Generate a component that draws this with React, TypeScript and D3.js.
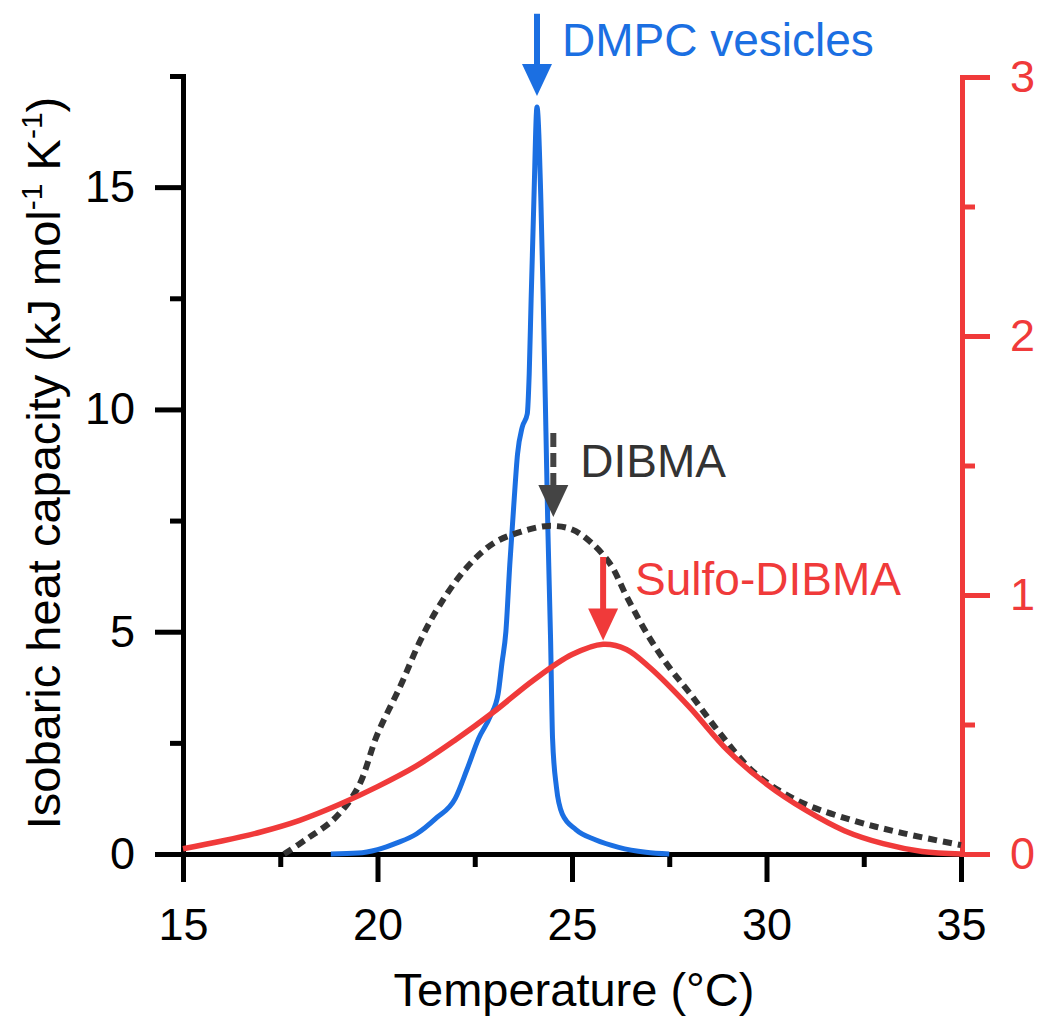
import React, { useRef, useEffect } from 'react';
import * as d3 from 'd3';

// DMPC vesicles, left axis (kJ mol-1 K-1)
const dmpcTemp = [18.8, 19.5, 20.0, 20.5, 21.0, 21.5, 22.0, 22.3, 22.6, 22.9, 23.1, 23.2, 23.3, 23.4, 23.5, 23.6, 23.72, 23.85, 23.9, 23.95, 24.02, 24.1, 24.2, 24.26, 24.33, 24.38, 24.45, 24.5, 24.6, 24.75, 25.1, 25.6, 26.2, 26.9, 27.5];
const dmpcCp = [0, 0.02, 0.1, 0.25, 0.45, 0.8, 1.25, 1.9, 2.6, 3.1, 3.6, 4.3, 5.0, 6.5, 7.8, 9.0, 9.6, 9.9, 10.8, 12.5, 14.7, 16.8, 14.7, 12.5, 9.5, 7.3, 4.8, 2.6, 1.5, 0.9, 0.55, 0.32, 0.15, 0.04, 0];

// DIBMA, dashed, left axis
const dibmaTemp = [17.6, 18.2, 18.9, 19.5, 20.0, 20.6, 21.1, 21.6, 22.3, 23.0, 23.7, 24.4, 25.0, 25.5, 26.0, 26.4, 27.0, 27.5, 28.0, 28.8, 29.7, 30.8, 32.2, 33.5, 35.0];
const dibmaCp = [0, 0.35, 0.8, 1.5, 2.7, 3.8, 4.8, 5.6, 6.45, 7.0, 7.25, 7.38, 7.3, 7.0, 6.5, 5.8, 4.85, 4.2, 3.65, 2.72, 1.82, 1.2, 0.76, 0.47, 0.2];

// Sulfo-DIBMA, right axis
const sulfoTemp = [15, 16, 17, 18, 19, 20, 21, 22, 23, 24, 25, 25.8, 26.4, 27, 28, 29, 30, 31, 32, 33, 34, 35];
const sulfoCp = [0.02, 0.05, 0.085, 0.13, 0.19, 0.26, 0.34, 0.44, 0.55, 0.67, 0.77, 0.81, 0.79, 0.72, 0.57, 0.40, 0.27, 0.17, 0.09, 0.04, 0.01, 0];

const xMajorTicks = [15, 20, 25, 30, 35];
const xMinorTicks = [17.5, 22.5, 27.5, 32.5];
const yLeftMajor = [0, 5, 10, 15];
const yLeftMinor = [2.5, 7.5, 12.5, 17.5];
const yRightMajor = [0, 1, 2, 3];
const yRightMinor = [0.5, 1.5, 2.5];

const BLUE = '#1b6fe2';
const RED = '#f03a3a';
const DARK = '#333333';
const FONT = '"Liberation Sans", Arial, Helvetica, sans-serif';

// peak markers (temperature, arrow top, arrow tip) in left-axis units
const peakArrows = [
  { label: 'DMPC vesicles', t: 24.1, top: 18.9, tip: 17.05, color: BLUE, textColor: BLUE, dashed: false, dx: 25, dy: 42 },
  { label: 'DIBMA', t: 24.52, top: 9.47, tip: 7.58, color: '#444444', textColor: DARK, dashed: true, dx: 27, dy: 44 },
  { label: 'Sulfo-DIBMA', t: 25.8, top: 6.68, tip: 4.8, color: RED, textColor: RED, dashed: false, dx: 32, dy: 38 },
];

const App = () => {
  const ref = useRef(null);

  useEffect(() => {
    const svg = d3.select(ref.current);
    svg.selectAll('*').remove();

    const x = d3.scaleLinear().domain([15, 35]).range([183, 961]);
    const yL = d3.scaleLinear().domain([0, 17.5]).range([854, 76]);
    const yR = d3.scaleLinear().domain([0, 3]).range([854, 77]);
    const fmt = d3.format('d');

    const styleAxis = (g, color, size) => {
      g.attr('font-family', FONT).attr('font-size', size);
      g.selectAll('path').attr('stroke', color).attr('stroke-width', 5).attr('stroke-linecap', 'square');
      g.selectAll('line').attr('stroke', color).attr('stroke-width', 5);
      g.selectAll('text').attr('fill', color);
    };

    // bottom axis
    const gx = svg.append('g').attr('transform', 'translate(0,854)');
    gx.call(d3.axisBottom(x).tickValues(xMajorTicks).tickFormat(fmt).tickSize(28).tickPadding(26).tickSizeOuter(0));
    styleAxis(gx, '#000', 45);
    const gxm = svg.append('g').attr('transform', 'translate(0,854)');
    gxm.call(d3.axisBottom(x).tickValues(xMinorTicks).tickSize(13).tickFormat(() => '').tickSizeOuter(0));
    styleAxis(gxm, '#000', 45);

    // left axis
    const gl = svg.append('g').attr('transform', 'translate(183,0)');
    gl.call(d3.axisLeft(yL).tickValues(yLeftMajor).tickFormat(fmt).tickSize(28).tickPadding(20).tickSizeOuter(0));
    styleAxis(gl, '#000', 45);
    const glm = svg.append('g').attr('transform', 'translate(183,0)');
    glm.call(d3.axisLeft(yL).tickValues(yLeftMinor).tickSize(13).tickFormat(() => '').tickSizeOuter(0));
    styleAxis(glm, '#000', 45);

    // right axis
    const gr = svg.append('g').attr('transform', 'translate(962,0)');
    gr.call(d3.axisRight(yR).tickValues(yRightMajor).tickFormat(fmt).tickSize(28).tickPadding(20).tickSizeOuter(0));
    styleAxis(gr, RED, 45);
    const grm = svg.append('g').attr('transform', 'translate(962,0)');
    grm.call(d3.axisRight(yR).tickValues(yRightMinor).tickSize(13).tickFormat(() => '').tickSizeOuter(0));
    styleAxis(grm, RED, 45);

    // axis titles
    svg.append('text')
      .attr('x', (x(15) + x(35)) / 2 + 2)
      .attr('y', 1006)
      .attr('text-anchor', 'middle')
      .attr('font-family', FONT)
      .attr('font-size', 47)
      .text('Temperature (°C)');

    const yt = svg.append('text')
      .attr('transform', 'translate(60,463) rotate(-90)')
      .attr('text-anchor', 'middle')
      .attr('font-family', FONT)
      .attr('font-size', 47);
    yt.append('tspan').text('Isobaric heat capacity (kJ mol');
    yt.append('tspan').attr('font-size', 30).attr('dy', -18).text('-1');
    yt.append('tspan').attr('dy', 18).text(' K');
    yt.append('tspan').attr('font-size', 30).attr('dy', -18).text('-1');
    yt.append('tspan').attr('dy', 18).text(')');

    // curves
    const lineL = d3.line().x(d => x(d[0])).y(d => yL(d[1])).curve(d3.curveMonotoneX);
    const smoothL = d3.line().x(d => x(d[0])).y(d => yL(d[1])).curve(d3.curveCatmullRom);
    const smoothR = d3.line().x(d => x(d[0])).y(d => yR(d[1])).curve(d3.curveCatmullRom);

    svg.append('path')
      .datum(dmpcTemp.map((t, i) => [t, dmpcCp[i]]))
      .attr('d', lineL)
      .attr('fill', 'none')
      .attr('stroke', BLUE)
      .attr('stroke-width', 5)
      .attr('stroke-linejoin', 'round');

    svg.append('path')
      .datum(dibmaTemp.map((t, i) => [t, dibmaCp[i]]))
      .attr('d', smoothL)
      .attr('fill', 'none')
      .attr('stroke', DARK)
      .attr('stroke-width', 6)
      .attr('stroke-dasharray', '9,6');

    svg.append('path')
      .datum(sulfoTemp.map((t, i) => [t, sulfoCp[i]]))
      .attr('d', smoothR)
      .attr('fill', 'none')
      .attr('stroke', RED)
      .attr('stroke-width', 5.5)
      .attr('stroke-linejoin', 'round');

    // peak arrows and labels
    peakArrows.forEach(a => {
      const ax = x(a.t);
      const top = yL(a.top);
      const tip = yL(a.tip);
      const headLen = 32;
      const headW = 15;
      svg.append('line')
        .attr('x1', ax).attr('x2', ax)
        .attr('y1', top).attr('y2', tip - headLen + 2)
        .attr('stroke', a.color)
        .attr('stroke-width', 6)
        .attr('stroke-dasharray', a.dashed ? '14,6' : null);
      svg.append('path')
        .attr('d', `M${ax - headW},${tip - headLen}L${ax + headW},${tip - headLen}L${ax},${tip}Z`)
        .attr('fill', a.color);
      svg.append('text')
        .attr('x', ax + a.dx)
        .attr('y', top + a.dy)
        .attr('font-family', FONT)
        .attr('font-size', 46)
        .attr('fill', a.textColor)
        .text(a.label);
    });
  }, []);

  return (
    <svg
      ref={ref}
      width={1040}
      height={1017}
      style={{ position: 'absolute', left: 0, top: 0, background: '#fff' }}
    />
  );
};

export default App;
